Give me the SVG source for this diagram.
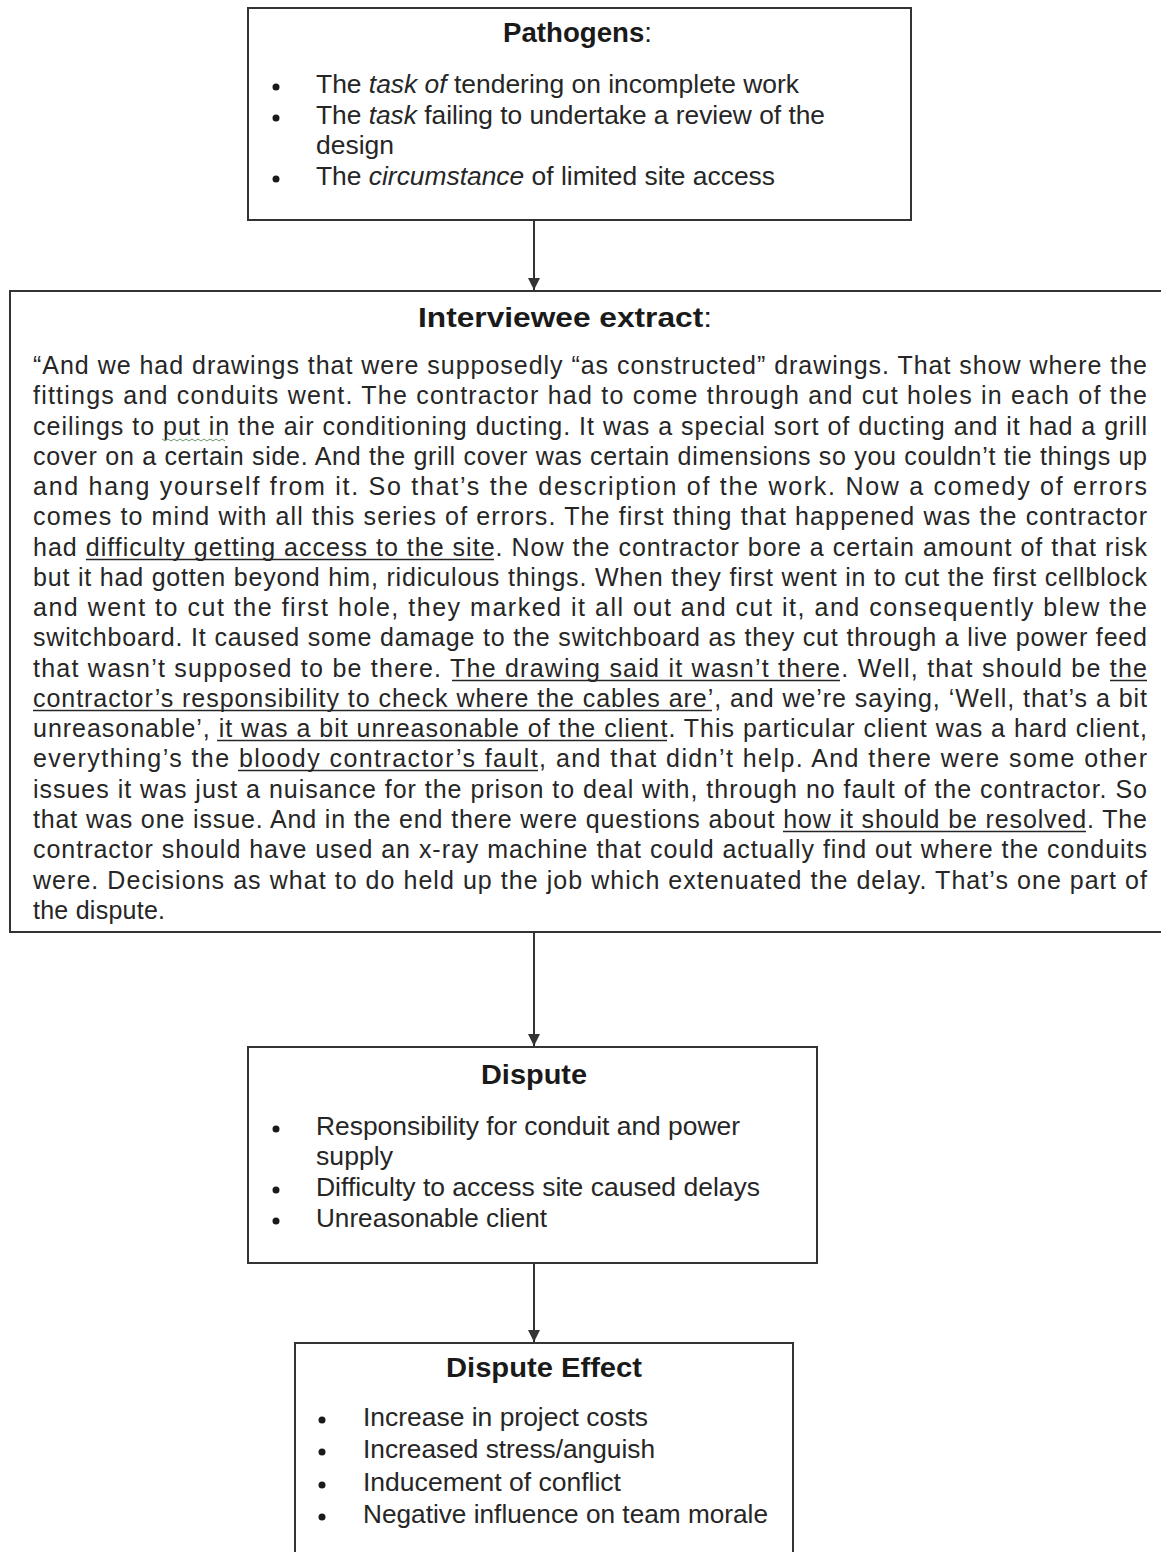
<svg xmlns="http://www.w3.org/2000/svg" width="1161" height="1552" viewBox="0 0 1161 1552">
  <style>
    .box { fill: #ffffff; stroke: #333333; stroke-width: 2; }
    .title { font-family: "Liberation Sans", Arial, sans-serif; font-weight: bold; font-size: 27px; fill: #1a1a1a; }
    .colon { font-weight: normal; }
    .body { font-family: "Liberation Sans", Arial, sans-serif; font-size: 25px; fill: #262626; }
    .i { font-style: italic; }
    .bullet { fill: #1a1a1a; }
    .conn { stroke: #333333; stroke-width: 2; fill: none; }
    .ul { stroke: #262626; stroke-width: 1.6; }
  </style>
  <defs>
    <marker id="arrow" viewBox="0 0 10 10" refX="10" refY="5" markerWidth="6" markerHeight="6" orient="auto" markerUnits="strokeWidth">
      <path d="M0,0 L10,5 L0,10 Z" fill="#333333"/>
    </marker>
  </defs>
  <rect width="1161" height="1552" fill="#ffffff"/>

  <!-- connectors -->
  <g id="connectors">
    <line class="conn" x1="534" y1="221" x2="534" y2="290" marker-end="url(#arrow)"/>
    <line class="conn" x1="534" y1="933" x2="534" y2="1046" marker-end="url(#arrow)"/>
    <line class="conn" x1="534" y1="1264" x2="534" y2="1342" marker-end="url(#arrow)"/>
  </g>

  <!-- Pathogens -->
  <g id="pathogens">
    <rect class="box" x="248" y="8" width="663" height="212"/>
    <text class="title" x="503" y="42" textLength="149" lengthAdjust="spacingAndGlyphs">Pathogens<tspan class="colon">:</tspan></text>
    <circle class="bullet" cx="276" cy="87" r="3.5"/>
    <circle class="bullet" cx="276" cy="118" r="3.5"/>
    <circle class="bullet" cx="276" cy="179" r="3.5"/>
    <text class="body" x="316" y="93" textLength="483" lengthAdjust="spacingAndGlyphs">The <tspan class="i">task of</tspan> tendering on incomplete work</text>
    <text class="body" x="316" y="124" textLength="509" lengthAdjust="spacingAndGlyphs">The <tspan class="i">task</tspan> failing to undertake a review of the</text>
    <text class="body" x="316" y="154" textLength="78" lengthAdjust="spacingAndGlyphs">design</text>
    <text class="body" x="316" y="185" textLength="459" lengthAdjust="spacingAndGlyphs">The <tspan class="i">circumstance</tspan> of limited site access</text>
  </g>

  <!-- Interviewee extract -->
  <g id="interviewee-extract">
    <rect class="box" x="10" y="291" width="1160" height="641"/>
    <text class="title" x="418" y="327" textLength="294" lengthAdjust="spacingAndGlyphs">Interviewee extract<tspan class="colon">:</tspan></text>
    <g class="body">
      <text x="33" y="374" textLength="1114" lengthAdjust="spacing">“And we had drawings that were supposedly “as constructed” drawings. That show where the</text>
      <text x="33" y="404" textLength="1114" lengthAdjust="spacing">fittings and conduits went.  The contractor had to come through and cut holes in each of the</text>
      <text x="33" y="435" textLength="1114" lengthAdjust="spacing">ceilings to put  in the air conditioning ducting. It was a special sort of ducting and it had a grill</text>
      <text x="33" y="465" textLength="1114" lengthAdjust="spacing">cover on a certain side.  And the grill cover was certain dimensions so you couldn’t tie things up</text>
      <text x="33" y="495" textLength="1114" lengthAdjust="spacing">and hang yourself from it.  So that’s the description of the work.  Now a comedy of errors</text>
      <text x="33" y="525" textLength="1114" lengthAdjust="spacing">comes to mind with all this series of errors.  The first thing that happened was the contractor</text>
      <text x="33" y="556" textLength="1114" lengthAdjust="spacing">had difficulty getting access to the site.  Now the contractor bore a certain amount of that risk</text>
      <text x="33" y="586" textLength="1114" lengthAdjust="spacing">but it had gotten beyond him, ridiculous things.  When they first went in to cut the first cellblock</text>
      <text x="33" y="616" textLength="1114" lengthAdjust="spacing">and went to cut the first hole, they marked it all out and cut it, and consequently blew the</text>
      <text x="33" y="646" textLength="1114" lengthAdjust="spacing">switchboard.  It caused some damage to the switchboard as they cut through a live power feed</text>
      <text x="33" y="677" textLength="1114" lengthAdjust="spacing">that wasn’t supposed to be there.  The drawing said it wasn’t there. Well, that should be the</text>
      <text x="33" y="707" textLength="1114" lengthAdjust="spacing">contractor’s responsibility to check where the cables are’, and we’re saying, ‘Well, that’s a bit</text>
      <text x="33" y="737" textLength="1114" lengthAdjust="spacing">unreasonable’, it was a bit unreasonable of the client.  This particular client was a hard client,</text>
      <text x="33" y="767" textLength="1114" lengthAdjust="spacing">everything’s the bloody contractor’s fault, and that didn’t help.  And there were some other</text>
      <text x="33" y="798" textLength="1114" lengthAdjust="spacing">issues it was just a nuisance for the prison to deal with, through no fault of the contractor.  So</text>
      <text x="33" y="828" textLength="1114" lengthAdjust="spacing">that was one issue.  And in the end there were questions about how it should be resolved.  The</text>
      <text x="33" y="858" textLength="1114" lengthAdjust="spacing">contractor should have used an x-ray machine that could actually find out where the conduits</text>
      <text x="33" y="889" textLength="1114" lengthAdjust="spacing">were.  Decisions as what to do held up the job which extenuated the delay.  That’s one part of</text>
      <text x="33" y="919" textLength="132" lengthAdjust="spacing">the dispute.</text>
    </g>
    <!-- underlined phrases -->
    <g class="ul">
      <line x1="86" y1="559.5" x2="494" y2="559.5"/>
      <line x1="452" y1="680.5" x2="840" y2="680.5"/>
      <line x1="1110" y1="680.5" x2="1147" y2="680.5"/>
      <line x1="33" y1="710.5" x2="712" y2="710.5"/>
      <line x1="217" y1="740.5" x2="667" y2="740.5"/>
      <line x1="238" y1="770.5" x2="538" y2="770.5"/>
      <line x1="783" y1="831.5" x2="1086" y2="831.5"/>
    </g>
    <!-- grammar squiggle under "put  in" -->
    <path d="M162,439 l3,2 l3,-2 l3,2 l3,-2 l3,2 l3,-2 l3,2 l3,-2 l3,2 l3,-2 l3,2 l3,-2 l3,2 l3,-2 l3,2 l3,-2 l3,2 l3,-2 l3,2 l3,-2 l3,2" fill="none" stroke="#6a9a6a" stroke-width="1"/>
  </g>

  <!-- Dispute -->
  <g id="dispute">
    <rect class="box" x="248" y="1047" width="569" height="216"/>
    <text class="title" x="481" y="1084" textLength="106" lengthAdjust="spacingAndGlyphs">Dispute</text>
    <circle class="bullet" cx="276" cy="1129" r="3.5"/>
    <circle class="bullet" cx="276" cy="1190" r="3.5"/>
    <circle class="bullet" cx="276" cy="1221" r="3.5"/>
    <text class="body" x="316" y="1135" textLength="424" lengthAdjust="spacingAndGlyphs">Responsibility for conduit and power</text>
    <text class="body" x="316" y="1165" textLength="77" lengthAdjust="spacingAndGlyphs">supply</text>
    <text class="body" x="316" y="1196" textLength="444" lengthAdjust="spacingAndGlyphs">Difficulty to access site caused delays</text>
    <text class="body" x="316" y="1227" textLength="231" lengthAdjust="spacingAndGlyphs">Unreasonable client</text>
  </g>

  <!-- Dispute Effect -->
  <g id="dispute-effect">
    <rect class="box" x="295" y="1343" width="498" height="230"/>
    <text class="title" x="446" y="1377" textLength="196" lengthAdjust="spacingAndGlyphs">Dispute Effect</text>
    <circle class="bullet" cx="322" cy="1420" r="3.5"/>
    <circle class="bullet" cx="322" cy="1452" r="3.5"/>
    <circle class="bullet" cx="322" cy="1485" r="3.5"/>
    <circle class="bullet" cx="322" cy="1517" r="3.5"/>
    <text class="body" x="363" y="1426" textLength="285" lengthAdjust="spacingAndGlyphs">Increase in project costs</text>
    <text class="body" x="363" y="1458" textLength="292" lengthAdjust="spacingAndGlyphs">Increased stress/anguish</text>
    <text class="body" x="363" y="1491" textLength="258" lengthAdjust="spacingAndGlyphs">Inducement of conflict</text>
    <text class="body" x="363" y="1523" textLength="405" lengthAdjust="spacingAndGlyphs">Negative influence on team morale</text>
  </g>
</svg>
